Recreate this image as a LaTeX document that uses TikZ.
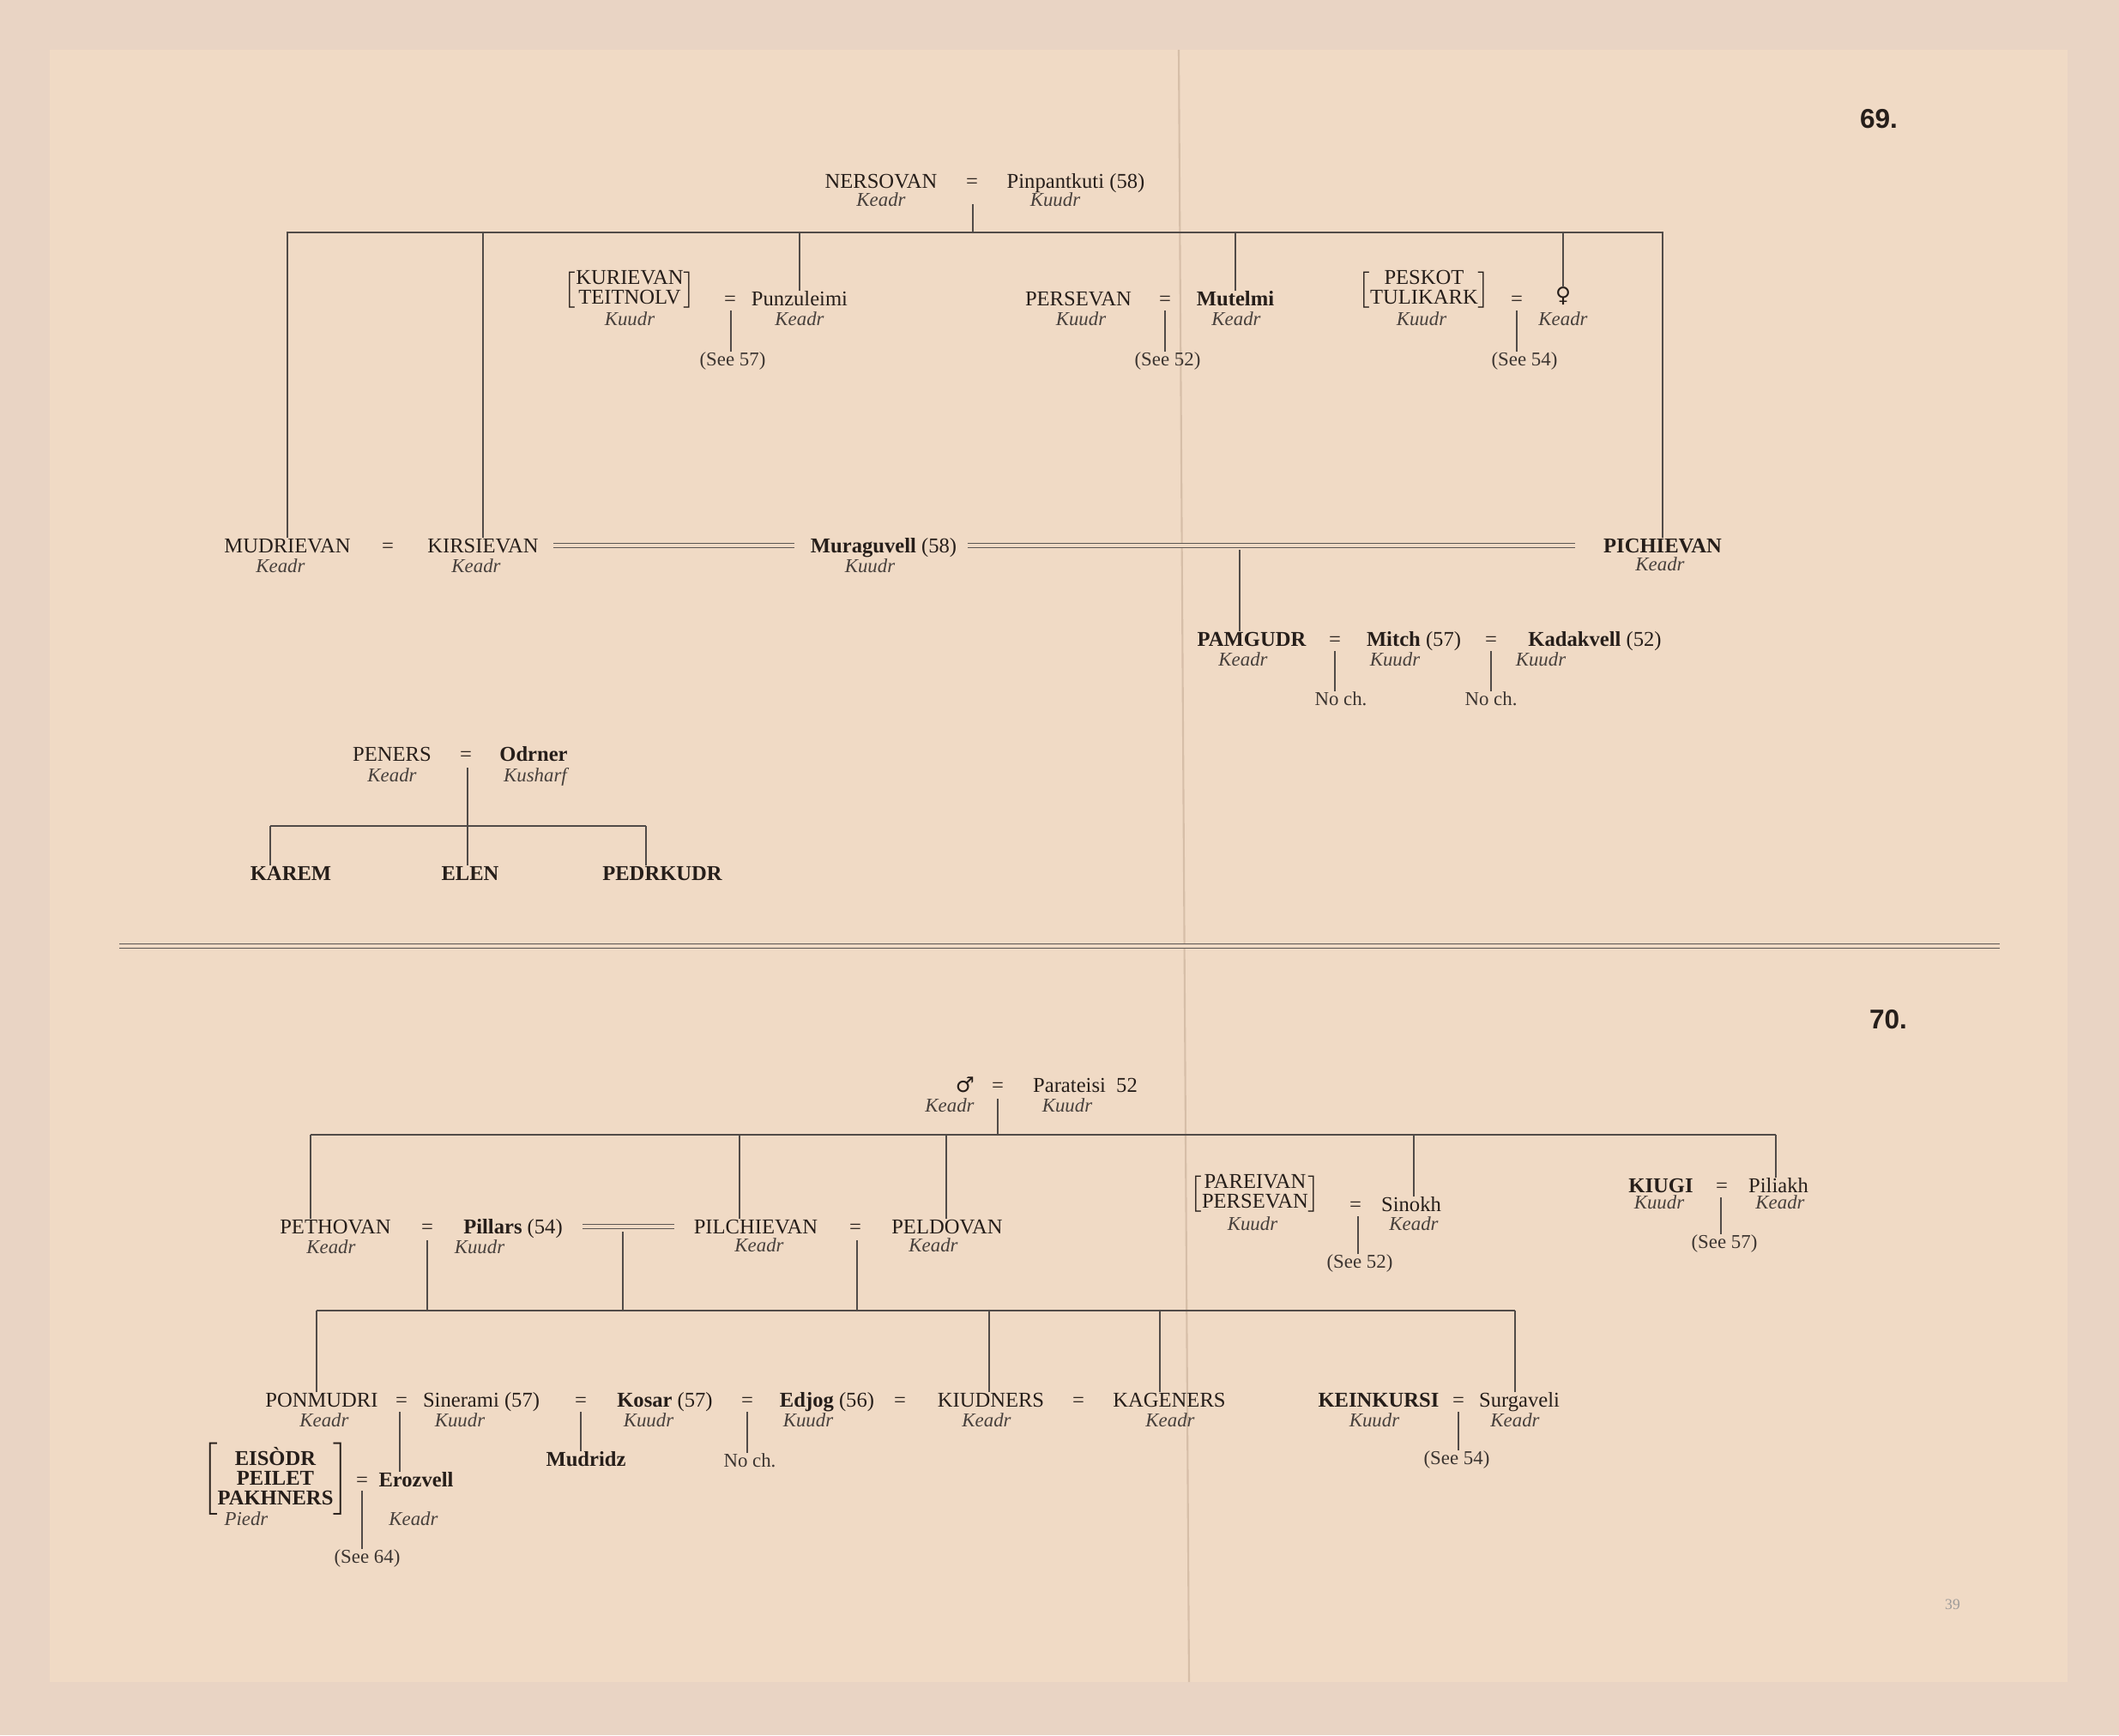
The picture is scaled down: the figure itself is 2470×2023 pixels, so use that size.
\documentclass[tikz,border=0pt]{standalone}
\usepackage{fontspec}
\setmainfont{Liberation Serif}
\newfontfamily\numfont{Liberation Sans}
\newfontfamily\symfont{DejaVu Sans}
\usetikzlibrary{positioning}
\definecolor{frame}{RGB}{233,212,196}
\definecolor{paper}{RGB}{240,218,197}
\definecolor{ink}{RGB}{38,30,26}
\definecolor{fold}{RGB}{214,190,168}
\newcommand\kinbrk[2]{$\left[\renewcommand\arraystretch{#1}\begin{tabular}{@{}c@{}}#2\end{tabular}\right]$}

\begin{document}
\begin{tikzpicture}[x=0.1mm, y=-0.1mm,
    nm/.style={inner sep=0pt, text=ink, text height=4.7pt, text depth=0pt, font=\fontsize{7}{8}\selectfont},
    bnm/.style={nm, font=\fontsize{7}{8}\selectfont\bfseries},
    grp/.style={inner sep=0pt, text=ink, font=\fontsize{7}{8}\selectfont},
    tribe/.style={inner sep=0pt, text=ink!85, text height=4.5pt, text depth=0pt, font=\fontsize{6.5}{7}\selectfont\itshape},
    note/.style={inner sep=0pt, text=ink!90, text height=4.5pt, text depth=0pt, font=\fontsize{6.5}{7}\selectfont},
    ln/.style={draw=ink!80, line width=0.45pt},
    dbl/.style={draw=ink!75, double=paper, double distance=0.9pt, line width=0.35pt}]
    \fill[frame] (0,0) rectangle (2470,2023);
    \fill[paper] (58,58) rectangle (2410,1961);
    \draw[fold, line width=0.6pt] (1374,58) -- (1386,1961);
    \useasboundingbox (0,0) rectangle (2470,2023);

    \node[font=\numfont\fontsize{9}{10}\selectfont\bfseries, text=ink] (n69) at (2190,139) {69.};
    \node[font=\numfont\fontsize{9}{10}\selectfont\bfseries, text=ink] (n70) at (2201,1189) {70.};
    \node[font=\fontsize{5}{6}\selectfont, text=ink!45] (pg) at (2276,1871) {39};
    \draw[dbl, line width=0.45pt, double distance=1pt] (139,1103) -- (2331,1103);

    \node[nm]    (ners) at (1027,211) {NERSOVAN};
    \node[nm]    (e1)   at (1133,211) {=};
    \node[nm]    (pinp) at (1254,211) {Pinpantkuti (58)};
    \node[tribe] (t1)   at (1027,233) {Keadr};
    \node[tribe] (t2)   at (1230,233) {Kuudr};
    \coordinate (j1)    at (1134,238);
    \coordinate (bar69) at (1134,271);

    \node[grp]   (kt)   at (734,338)  {\kinbrk{0.75}{KURIEVAN\\TEITNOLV}};
    \node[nm]    (e2)   at (851,348)  {=};
    \node[nm]    (punz) at (932,348)  {Punzuleimi};
    \node[tribe] (t3)   at (734,372)  {Kuudr};
    \node[tribe] (t4)   at (932,372)  {Keadr};
    \coordinate (j2)    at (852,362);
    \node[note]  (s1)   at (854,419)  {(See 57)};

    \node[nm]    (pers) at (1257,348) {PERSEVAN};
    \node[nm]    (e3)   at (1358,348) {=};
    \node[bnm]   (mut)  at (1440,348) {Mutelmi};
    \node[tribe] (t5)   at (1260,372) {Kuudr};
    \node[tribe] (t6)   at (1441,372) {Keadr};
    \coordinate (j3)    at (1358,362);
    \node[note]  (s2)   at (1361,419) {(See 52)};

    \node[grp]   (pt)   at (1660,338) {\kinbrk{0.75}{PESKOT\\TULIKARK}};
    \node[nm]    (e4)   at (1768,348) {=};
    \node[nm]    (fem)  at (1822,344) {\symfont ♀};
    \node[tribe] (t7)   at (1657,372) {Kuudr};
    \node[tribe] (t8)   at (1822,372) {Keadr};
    \coordinate (j4)    at (1768,362);
    \node[note]  (s3)   at (1777,419) {(See 54)};

    \node[nm]    (mud)  at (335,636)  {MUDRIEVAN};
    \node[nm]    (e5)   at (452,636)  {=};
    \node[nm]    (kirs) at (563,636)  {KIRSIEVAN};
    \node[nm]    (mura) at (1030,636) {\textbf{Muraguvell} (58)};
    \node[bnm]   (pich) at (1938,636) {PICHIEVAN};
    \node[tribe] (t9)   at (327,660)  {Keadr};
    \node[tribe] (t10)  at (555,660)  {Keadr};
    \node[tribe] (t11)  at (1014,660) {Kuudr};
    \node[tribe] (t12)  at (1935,658) {Keadr};
    \coordinate (mp)    at (1445,641);

    \node[bnm]   (pam)  at (1459,745) {PAMGUDR};
    \node[nm]    (e6)   at (1556,745) {=};
    \node[nm]    (mitch) at (1648,745) {\textbf{Mitch} (57)};
    \node[nm]    (e7)   at (1738,745) {=};
    \node[nm]    (kadak) at (1859,745) {\textbf{Kadakvell} (52)};
    \node[tribe] (t13)  at (1449,769) {Keadr};
    \node[tribe] (t14)  at (1626,769) {Kuudr};
    \node[tribe] (t15)  at (1796,769) {Kuudr};
    \coordinate (j6)    at (1556,759);
    \coordinate (j7)    at (1738,759);
    \node[note]  (nc1)  at (1563,815) {No ch.};
    \node[note]  (nc2)  at (1738,815) {No ch.};

    \node[nm]    (pen)  at (457,879)  {PENERS};
    \node[nm]    (e8)   at (543,879)  {=};
    \node[bnm]   (odr)  at (622,879)  {Odrner};
    \node[tribe] (t16)  at (457,904)  {Keadr};
    \node[tribe] (t17)  at (624,904)  {Kusharf};
    \coordinate (j8)    at (545,895);
    \coordinate (pb1)   at (315,963);
    \coordinate (pb2)   at (545,963);
    \coordinate (pb3)   at (753,963);
    \node[bnm]   (karem) at (339,1018) {KAREM};
    \node[bnm]   (elen) at (548,1018) {ELEN};
    \node[bnm]   (pedr) at (772,1018) {PEDRKUDR};

    \draw[ln] (j1) -- (bar69);
    \draw[ln] (mud.north) |- (bar69) -| (pich.north);
    \draw[ln] (kirs.north) -- (kirs.north |- bar69);
    \draw[ln] (punz.north) -- (punz.north |- bar69);
    \draw[ln] (mut.north) -- (mut.north |- bar69);
    \draw[ln] (fem.north) -- (fem.north |- bar69);
    \draw[ln] (j2) -- (j2 |- s1.north);
    \draw[ln] (j3) -- (j3 |- s2.north);
    \draw[ln] (j4) -- (j4 |- s3.north);
    \draw[dbl, shorten <=1.7mm, shorten >=1.8mm] (kirs) -- (mura);
    \draw[dbl, shorten <=1.2mm, shorten >=3.2mm] (mura) -- (pich);
    \draw[ln] (mp) -- (mp |- pam.north);
    \draw[ln] (j6) -- (j6 |- nc1.north);
    \draw[ln] (j7) -- (j7 |- nc2.north);
    \draw[ln] (j8) -- (pb2);
    \draw[ln] (pb1) -- (pb3);
    \draw[ln] (pb1) -- (pb1 |- karem.north);
    \draw[ln] (pb2) -- (pb2 |- elen.north);
    \draw[ln] (pb3) -- (pb3 |- pedr.north);

    \node[nm]    (male) at (1125,1265) {\symfont ♂};
    \node[nm]    (e9)   at (1163,1265) {=};
    \node[nm]    (para) at (1265,1265) {Parateisi\enspace 52};
    \node[tribe] (t18)  at (1107,1289) {Keadr};
    \node[tribe] (t19)  at (1244,1289) {Kuudr};
    \coordinate (j9)    at (1163,1281);
    \coordinate (bar70) at (1163,1323);
    \coordinate (d1)    at (362,1323);
    \coordinate (d2)    at (862,1323);
    \coordinate (d3)    at (1103,1323);
    \coordinate (d4)    at (1648,1323);
    \coordinate (d5)    at (2070,1323);

    \node[nm]    (peth) at (391,1430)  {PETHOVAN};
    \node[nm]    (e10)  at (498,1430)  {=};
    \node[nm]    (pill) at (598,1430)  {\textbf{Pillars} (54)};
    \node[nm]    (pilc) at (881,1430)  {PILCHIEVAN};
    \node[nm]    (e11)  at (997,1430)  {=};
    \node[nm]    (peld) at (1104,1430) {PELDOVAN};
    \node[tribe] (t20)  at (386,1454)  {Keadr};
    \node[tribe] (t21)  at (559,1454)  {Kuudr};
    \node[tribe] (t22)  at (885,1452)  {Keadr};
    \node[tribe] (t23)  at (1088,1452) {Keadr};

    \node[grp]   (pp)   at (1463,1392) {\kinbrk{0.75}{PAREIVAN\\PERSEVAN}};
    \node[nm]    (e12)  at (1580,1404) {=};
    \node[nm]    (sin)  at (1645,1404) {Sinokh};
    \node[tribe] (t24)  at (1460,1427) {Kuudr};
    \node[tribe] (t25)  at (1648,1427) {Keadr};
    \coordinate (j12)   at (1583,1418);
    \node[note]  (s4)   at (1585,1471) {(See 52)};

    \node[bnm]   (kiugi) at (1936,1382) {KIUGI};
    \node[nm]    (e13)  at (2007,1382) {=};
    \node[nm]    (pil)  at (2073,1382) {Piliakh};
    \node[tribe] (t26)  at (1934,1402) {Kuudr};
    \node[tribe] (t27)  at (2075,1402) {Keadr};
    \coordinate (j13)   at (2006,1396);
    \node[note]  (s5)   at (2010,1448) {(See 57)};

    \coordinate (j10)   at (498,1446);
    \coordinate (jd)    at (726,1436);
    \coordinate (j11)   at (999,1446);
    \coordinate (bar2)  at (726,1528);
    \coordinate (f1)    at (369,1528);
    \coordinate (f2)    at (1153,1528);
    \coordinate (f3)    at (1352,1528);
    \coordinate (f4)    at (1766,1528);

    \node[nm]    (ponm) at (375,1632)  {PONMUDRI};
    \node[nm]    (e14)  at (468,1632)  {=};
    \node[nm]    (sine) at (561,1632)  {Sinerami (57)};
    \node[nm]    (e15)  at (677,1632)  {=};
    \node[nm]    (kosar) at (775,1632) {\textbf{Kosar} (57)};
    \node[nm]    (e16)  at (871,1632)  {=};
    \node[nm]    (edj)  at (964,1632)  {\textbf{Edjog} (56)};
    \node[nm]    (e17)  at (1049,1632) {=};
    \node[nm]    (kiud) at (1155,1632) {KIUDNERS};
    \node[nm]    (e18)  at (1257,1632) {=};
    \node[nm]    (kage) at (1363,1632) {KAGENERS};
    \node[bnm]   (kein) at (1607,1632) {KEINKURSI};
    \node[nm]    (e19)  at (1700,1632) {=};
    \node[nm]    (surg) at (1771,1632) {Surgaveli};
    \node[tribe] (t28)  at (378,1656)  {Keadr};
    \node[tribe] (t29)  at (536,1656)  {Kuudr};
    \node[tribe] (t30)  at (756,1656)  {Kuudr};
    \node[tribe] (t31)  at (942,1656)  {Kuudr};
    \node[tribe] (t32)  at (1150,1656) {Keadr};
    \node[tribe] (t33)  at (1364,1656) {Keadr};
    \node[tribe] (t34)  at (1602,1656) {Kuudr};
    \node[tribe] (t35)  at (1766,1656) {Keadr};
    \coordinate (j14)   at (466,1646);
    \coordinate (j15)   at (677,1646);
    \coordinate (j16)   at (871,1646);
    \coordinate (j19)   at (1700,1646);
    \node[bnm]   (mudr) at (683,1701)  {Mudridz};
    \node[note]  (nc3)  at (874,1703)  {No ch.};
    \node[note]  (s6)   at (1698,1700) {(See 54)};

    \node[grp, font=\fontsize{7}{8}\selectfont\bfseries] (eis) at (321,1724) {\kinbrk{0.8}{EIS\`ODR\\PEILET\\PAKHNERS}};
    \node[nm]    (e20)  at (422,1725)  {=};
    \node[bnm]   (eroz) at (485,1725)  {Erozvell};
    \node[tribe] (t36)  at (287,1771)  {Piedr};
    \node[tribe] (t37)  at (482,1771)  {Keadr};
    \coordinate (j20)   at (422,1738);
    \node[note]  (s7)   at (428,1815)  {(See 64)};

    \draw[ln] (j9) -- (bar70);
    \draw[ln] (d1) -- (d5);
    \draw[ln] (d1) -- (d1 |- peth.north);
    \draw[ln] (d2) -- (d2 |- pilc.north);
    \draw[ln] (d3) -- (d3 |- peld.north);
    \draw[ln] (d4) -- (d4 |- sin.north);
    \draw[ln] (d5) -- (d5 |- pil.north);
    \draw[dbl, shorten <=2.3mm, shorten >=2.2mm] (pill) -- (pilc);
    \draw[ln] (j12) -- (j12 |- s4.north);
    \draw[ln] (j13) -- (j13 |- s5.north);
    \draw[ln] (j10) -- (j10 |- bar2);
    \draw[ln] (jd) -- (bar2);
    \draw[ln] (j11) -- (j11 |- bar2);
    \draw[ln] (f1) -- (f4);
    \draw[ln] (f1) -- (f1 |- ponm.north);
    \draw[ln] (f2) -- (f2 |- kiud.north);
    \draw[ln] (f3) -- (f3 |- kage.north);
    \draw[ln] (f4) -- (f4 |- surg.north);
    \draw[ln] (j14) -- (j14 |- eroz.north);
    \draw[ln] (j15) -- (j15 |- mudr.north);
    \draw[ln] (j16) -- (j16 |- nc3.north);
    \draw[ln] (j19) -- (j19 |- s6.north);
    \draw[ln] (j20) -- (j20 |- s7.north);
\end{tikzpicture}
\end{document}
